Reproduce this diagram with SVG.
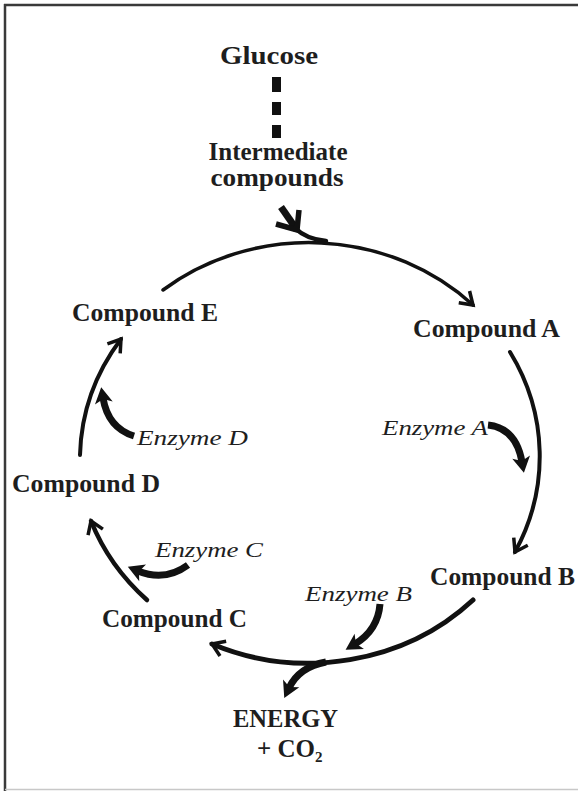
<svg xmlns="http://www.w3.org/2000/svg" width="578" height="791" viewBox="0 0 578 791">
  <defs>
    <style>
      .lbl { font-family: "Liberation Serif", "Times New Roman", serif; font-weight: bold; font-size: 25px; fill: #1e1e1e; }
      .enz { font-family: "Liberation Serif", "Times New Roman", serif; font-style: italic; font-size: 22px; fill: #1e1e1e; }
      .arc { fill: none; stroke: #111; stroke-linecap: round; }
      .enzarrow { fill: none; stroke: #111; stroke-width: 7; stroke-linecap: butt; }
    </style>
    <marker id="chev" markerUnits="userSpaceOnUse" orient="auto" markerWidth="40" markerHeight="40" viewBox="-20 -20 40 40" refX="0" refY="0" overflow="visible">
      <path d="M-12,-8 L0,0 L-12,8" fill="none" stroke="#111" stroke-width="3.5" stroke-linejoin="miter"/>
    </marker>
    <marker id="head" markerUnits="userSpaceOnUse" orient="auto" markerWidth="40" markerHeight="40" viewBox="-20 -20 40 40" refX="0" refY="0" overflow="visible">
      <path d="M-5,-9 L11,0 L-5,9 L-1,0 Z" fill="#111"/>
    </marker>
  </defs>

  <rect x="0" y="0" width="578" height="791" fill="#ffffff"/>
  <g id="frame">
    <line x1="4" y1="5" x2="578" y2="5" stroke="#3a3a3a" stroke-width="2.5"/>
    <line x1="5" y1="4" x2="5" y2="791" stroke="#3a3a3a" stroke-width="2.5"/>
    <line x1="5" y1="789.5" x2="578" y2="789.5" stroke="#c8c8c8" stroke-width="1.5"/>
  </g>

  <g id="connectors">
    <!-- dashed link glucose to intermediates -->
    <rect x="272" y="77" width="9" height="15" fill="#111"/>
    <rect x="272" y="102" width="9" height="13" fill="#111"/>
    <rect x="272" y="125" width="9" height="13" fill="#111"/>
    <!-- entry arrow into cycle -->
    <path d="M281,207 L297,230" fill="none" stroke="#111" stroke-width="7" stroke-linecap="butt"/>
    <path d="M295,228 Q306,239 326,241" fill="none" stroke="#111" stroke-width="4.5" stroke-linecap="round"/>
    <path d="M299,210 L297,230 L276,224" fill="none" stroke="#111" stroke-width="5.5" stroke-linejoin="miter"/>
    <!-- cycle arcs -->
    <path class="arc" stroke-width="3.5" d="M163,290 A232,213 0 0 1 473,305" marker-end="url(#chev)"/>
    <path class="arc" stroke-width="4" d="M510,352 A232,213 0 0 1 515,552" marker-end="url(#chev)"/>
    <path class="arc" stroke-width="5" d="M473,600 A232,213 0 0 1 212,644" marker-end="url(#chev)"/>
    <path class="arc" stroke-width="4.5" d="M147,600 A232,213 0 0 1 91,521" marker-end="url(#chev)"/>
    <path class="arc" stroke-width="4" d="M80,455 A232,213 0 0 1 121,339" marker-end="url(#chev)"/>
    <!-- energy branch -->
    <path class="enzarrow" stroke-width="6" d="M326,662 Q299,667 289,688" marker-end="url(#head)"/>
    <!-- enzyme arrows -->
    <path class="enzarrow" d="M488,425 Q516,428 522,462" marker-end="url(#head)"/>
    <path class="enzarrow" d="M380,604 Q378,630 355,644" marker-end="url(#head)"/>
    <path class="enzarrow" d="M188,565 Q165,582 138,571" marker-end="url(#head)"/>
    <path class="enzarrow" d="M134,436 Q108,428 103,398" marker-end="url(#head)"/>
  </g>

  <g id="glucose"><text class="lbl" x="269" y="64" font-size="28" text-anchor="middle" textLength="98" lengthAdjust="spacingAndGlyphs">Glucose</text></g>
  <g id="intermediate">
    <text class="lbl" x="278" y="160" font-size="23" text-anchor="middle" textLength="139" lengthAdjust="spacingAndGlyphs">Intermediate</text>
    <text class="lbl" x="277" y="186" font-size="23" text-anchor="middle" textLength="133" lengthAdjust="spacingAndGlyphs">compounds</text>
  </g>
  <g id="compoundA"><text class="lbl" x="486.5" y="337" text-anchor="middle" textLength="147" lengthAdjust="spacingAndGlyphs">Compound A</text></g>
  <g id="compoundB"><text class="lbl" x="502.5" y="585" text-anchor="middle" textLength="145" lengthAdjust="spacingAndGlyphs">Compound B</text></g>
  <g id="compoundC"><text class="lbl" x="174.5" y="627" text-anchor="middle" textLength="145" lengthAdjust="spacingAndGlyphs">Compound C</text></g>
  <g id="compoundD"><text class="lbl" x="86" y="492" text-anchor="middle" textLength="148" lengthAdjust="spacingAndGlyphs">Compound D</text></g>
  <g id="compoundE"><text class="lbl" x="145" y="321" text-anchor="middle" textLength="146" lengthAdjust="spacingAndGlyphs">Compound E</text></g>
  <g id="enzymeA"><text class="enz" x="382" y="435" textLength="106" lengthAdjust="spacingAndGlyphs">Enzyme A</text></g>
  <g id="enzymeB"><text class="enz" x="305" y="601" textLength="107" lengthAdjust="spacingAndGlyphs">Enzyme B</text></g>
  <g id="enzymeC"><text class="enz" x="155" y="557" textLength="108" lengthAdjust="spacingAndGlyphs">Enzyme C</text></g>
  <g id="enzymeD"><text class="enz" x="137" y="445" textLength="111" lengthAdjust="spacingAndGlyphs">Enzyme D</text></g>
  <g id="energy">
    <text class="lbl" x="285.5" y="727" text-anchor="middle" textLength="105" lengthAdjust="spacingAndGlyphs">ENERGY</text>
    <text class="lbl" x="257" y="757">+ CO<tspan font-size="15" dy="5">2</tspan></text>
  </g>
</svg>
